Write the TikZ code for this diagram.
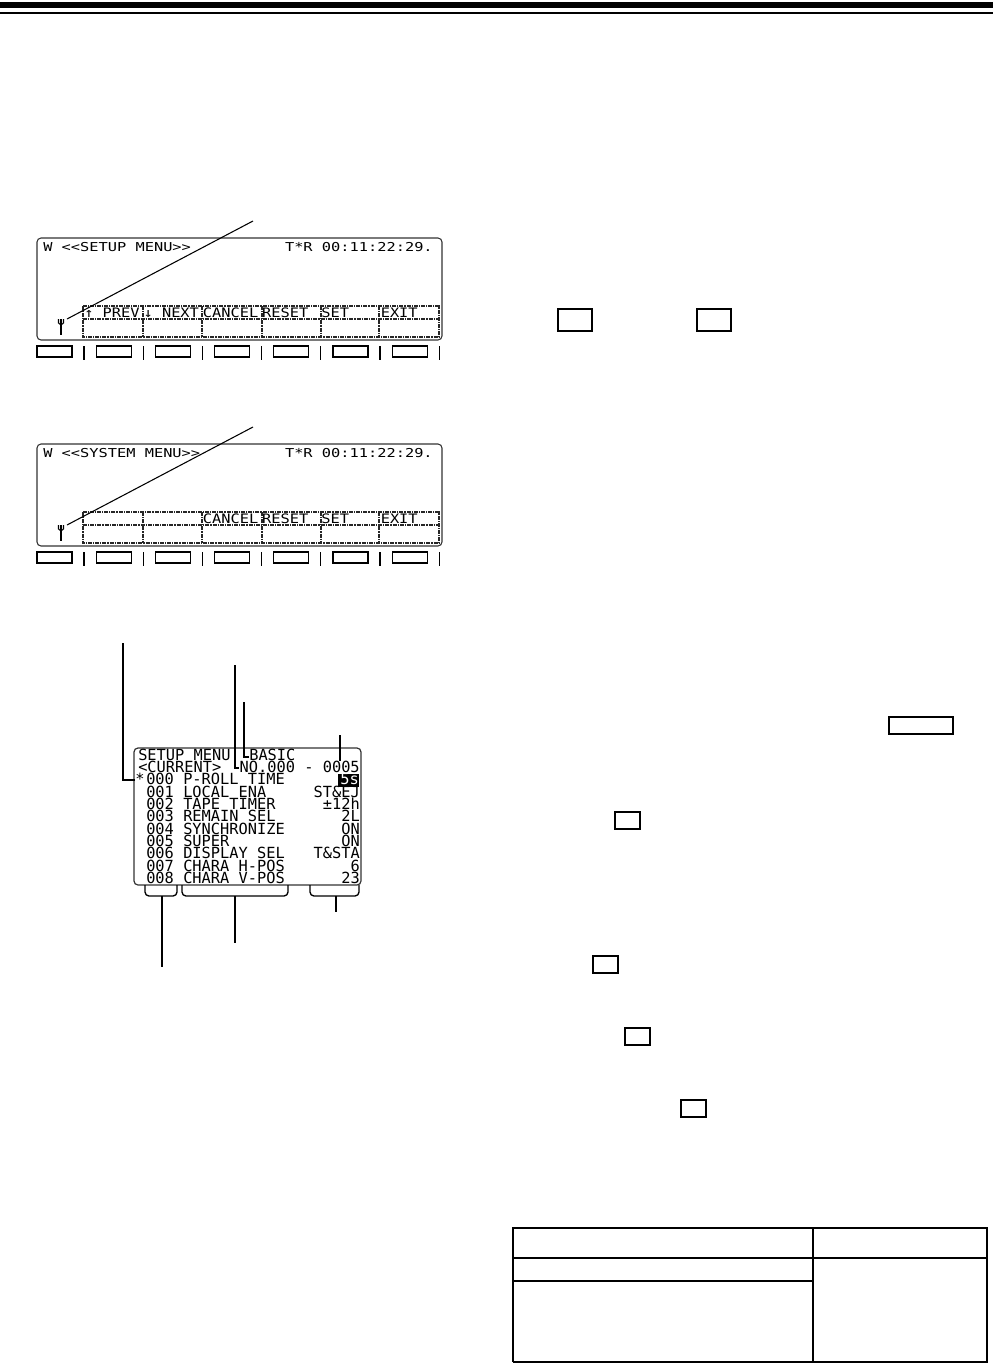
\documentclass[tikz,border=0pt]{standalone}
\usepackage{fontspec}
\newfontfamily\lcd{DejaVu Sans Mono}
\begin{document}
\begin{tikzpicture}[x=0.75pt,y=-0.75pt,
  lcdtext/.style={font=\lcd\fontsize{11.5}{12}\selectfont, inner sep=0pt, text height=7.6pt, text depth=0pt, anchor=base west},
  lcdR/.style={lcdtext, anchor=base east},
  panelbox/.style={draw=black!80, line width=0.8pt, rounded corners=3pt},
  gridline/.style={draw=black!85, line width=0.9pt, dash pattern=on 3pt off 0.8pt on 0.8pt off 0.8pt},
  fkey/.style={draw, line width=0.9pt},
  leader/.style={draw, line width=1pt},
  keybox/.style={draw, line width=1.1pt},
  brace/.style={draw, line width=1pt, rounded corners=3pt},
]
\useasboundingbox (0,0) rectangle (993,1363);
% top rules
\fill (0,2) rectangle (993,8);
\fill (0,12) rectangle (993,14);

% ---------- LCD panels ----------
\newcommand\lcdpanel[4]{%
  \begin{scope}[shift={(0,#2)}]
    \draw[panelbox] (37,0) rectangle (442,102);
    \node[lcdtext] (#1title) at (43,13) {\scalebox{1}[0.8]{#3}};
    \node[lcdR] (#1time) at (433,13) {\scalebox{1}[0.8]{T*R 00:11:22:29.}};
    \draw[gridline] (83,68) rectangle (439,99);
    \draw[gridline] (83,81) -- (439,81);
    \foreach \xx in {143,202,262,321,379} \draw[gridline] (\xx,68) -- (\xx,99);
    \foreach \lab [count=\k from 0] in {#4} {
      \node[lcdtext] (#1lab\k) at (84+59.3*\k,79) {\scalebox{1}[0.85]{\lab}};
    }
    % cursor symbol
    \draw[line width=0.8pt] (61,81) -- (61,97);
    \draw[line width=0.8pt] (58.5,81) -- (58.5,85) -- (61,87) -- (63.5,85) -- (63.5,81);
    \coordinate (#1cur) at (67,81);
    \coordinate (#1curtop) at (253,-17);
    \draw[line width=0.8pt] (#1cur) -- (#1curtop);
    % function keys
    \foreach \k in {0,...,6} {
      \draw[fkey] (37+59.2*\k,108) rectangle ++(35,11);
      \draw[line width=0.9pt] (84+59.2*\k,108) -- (84+59.2*\k,122);
    }
  \end{scope}}

\lcdpanel{pa}{238}{W <<SETUP MENU>>}{↑ PREV,↓ NEXT,CANCEL,RESET,SET,EXIT}
\lcdpanel{pb}{444}{W <<SYSTEM MENU>>}{{},{},CANCEL,RESET,SET,EXIT}

% ---------- setup menu screen ----------
\draw[panelbox, line width=0.9pt] (134,748) rectangle (361,885);
\node[lcdtext] (h1) at (138,760.3) {SETUP MENU};
\node[lcdtext] (h2) at (249,760.3) {BASIC};
\node[lcdtext] (c1) at (138,772.6) {<CURRENT>};
\node[lcdR] (c2) at (360,772.6) {NO.000 - 0005};
\node[lcdtext] (star) at (135,784.9) {*};
\foreach \num/\name [count=\i from 0] in {000/P-ROLL TIME,001/LOCAL ENA,002/TAPE TIMER,003/REMAIN SEL,004/SYNCHRONIZE,005/SUPER,006/DISPLAY SEL,007/CHARA H-POS,008/CHARA V-POS} {
  \node[lcdtext] (n\i) at (146,784.9+12.3*\i) {\num};
  \node[lcdtext] (m\i) at (183,784.9+12.3*\i) {\name};
}
\fill (338,774) rectangle (359,787);
\node[lcdR, text=white] (v0) at (359,784.9) {5s};
\foreach \val [count=\i from 1] in {ST\&EJ,±12h,2L,ON,ON,T\&STA,6,23} {
  \node[lcdR] (v\i) at (360,784.9+12.3*\i) {\val};
}
% leaders
\coordinate (l1top) at (123,643);
\coordinate (l1c) at (123,780);
\draw[leader] (l1top) -- (l1c) -- (star.west |- l1c);
\coordinate (l2top) at (235,665);
\coordinate (l2c) at (235,768);
\draw[leader] (l2top) -- (l2c) -- (c2.west |- l2c);
\coordinate (l3top) at (244,702);
\coordinate (l3c) at (244,757);
\draw[leader] (l3top) -- (l3c) -- (h2.west |- l3c);
\coordinate (l4top) at (340,735);
\coordinate (l4c) at (340,761);
\draw[leader] (l4top) -- (l4c);
% braces
\draw[brace] (145,885) -- (145,896) -- (177,896) -- (177,885);
\draw[leader] (162,896) -- (162,967);
\draw[brace] (182,885) -- (182,896) -- (288,896) -- (288,885);
\draw[leader] (235,896) -- (235,943);
\draw[brace] (310,885) -- (310,896) -- (359,896) -- (359,885);
\draw[leader] (336,896) -- (336,912);

% ---------- key boxes on the right ----------
\draw[keybox] (558,309) rectangle (592,331);
\draw[keybox] (697,309) rectangle (731,331);
\draw[keybox] (889,717) rectangle (953,734);
\draw[keybox] (615,812) rectangle (640,829);
\draw[keybox] (593,956) rectangle (618,973);
\draw[keybox] (625,1028) rectangle (650,1045);
\draw[keybox] (681,1100) rectangle (706,1117);

% ---------- table ----------
\draw[line width=1.1pt] (513,1362) -- (513,1228) -- (987,1228) -- (987,1362) -- (513,1362);
\draw[line width=1.1pt] (813,1228) -- (813,1363);
\draw[line width=1.1pt] (513,1258) -- (987,1258);
\draw[line width=1.1pt] (513,1281) -- (813,1281);
\end{tikzpicture}
\end{document}
